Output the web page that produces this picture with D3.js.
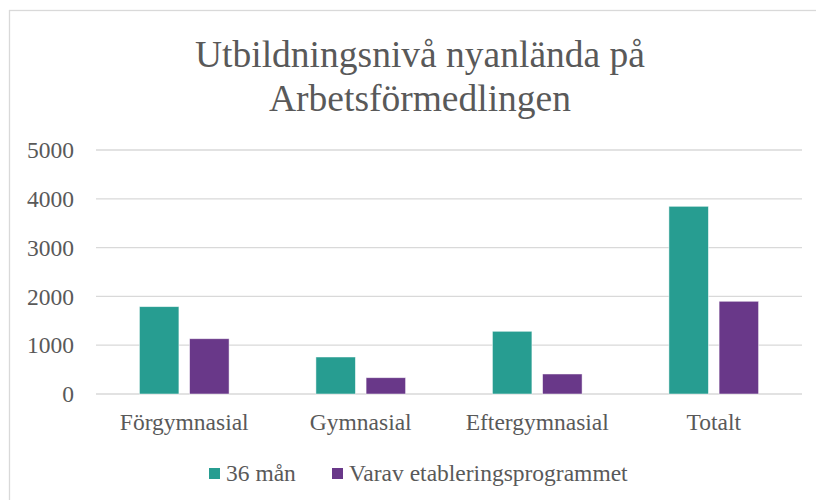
<!DOCTYPE html>
<html>
<head>
<meta charset="utf-8">
<script src="https://cdn.jsdelivr.net/npm/d3@7"></script>
<style>
  body { margin: 0; background: #fff; }
  svg { display: block; font-family: "Liberation Serif", "Times New Roman", serif; }
</style>
</head>
<body>
<div id="chart"></div>
<script>
const categories = ["Förgymnasial", "Gymnasial", "Eftergymnasial", "Totalt"];
const seriesNames = ["36 mån", "Varav etableringsprogrammet"];
const values36 = [1790, 758, 1285, 3846];
const valuesEtab = [1133, 334, 410, 1900];
const yTicks = [0, 1000, 2000, 3000, 4000, 5000];
const titleLines = ["Utbildningsnivå nyanlända på", "Arbetsförmedlingen"];

const colors = ["#279d91", "#693889"];
const textColor = "#595959";

const width = 816, height = 500;
const m = { left: 96, right: 802, top: 150, bottom: 394 };

const svg = d3.select("#chart").append("svg")
    .attr("width", width)
    .attr("height", height);

// chart frame (right and bottom edges fall outside the window)
svg.append("rect")
    .attr("x", 9.5).attr("y", 10.5)
    .attr("width", 822).attr("height", 520)
    .attr("fill", "#fff")
    .attr("stroke", "#d9d9d9")
    .attr("stroke-width", 1.3);

// title
svg.append("text")
    .attr("x", 420)
    .attr("text-anchor", "middle")
    .attr("fill", textColor)
    .attr("font-size", 37.5)
    .selectAll("tspan")
    .data(titleLines)
    .join("tspan")
    .attr("x", 420)
    .attr("y", (d, i) => 67 + i * 43.5)
    .text(d => d);

const x = d3.scaleBand()
    .domain(categories)
    .range([m.left, m.right])
    .paddingInner(0.492)
    .paddingOuter(0.246);

const xSub = d3.scaleBand()
    .domain(d3.range(seriesNames.length))
    .range([0, x.bandwidth()])
    .paddingInner(0.213);

const y = d3.scaleLinear()
    .domain([0, 5000])
    .range([m.bottom, m.top]);

// gridlines
svg.append("g")
    .selectAll("line")
    .data(yTicks)
    .join("line")
    .attr("x1", m.left).attr("x2", m.right)
    .attr("y1", d => y(d)).attr("y2", d => y(d))
    .attr("stroke", "#d9d9d9")
    .attr("stroke-width", 1.3);

// y labels
svg.append("g")
    .selectAll("text")
    .data(yTicks)
    .join("text")
    .attr("x", 74)
    .attr("y", d => y(d))
    .attr("dy", "0.35em")
    .attr("text-anchor", "end")
    .attr("fill", textColor)
    .attr("font-size", 23.5)
    .text(d => d);

// bars
const rows = categories.map((c, i) => ({ cat: c, vals: [values36[i], valuesEtab[i]] }));

const groups = svg.append("g")
    .selectAll("g")
    .data(rows)
    .join("g")
    .attr("transform", d => `translate(${x(d.cat)},0)`);

groups.selectAll("rect")
    .data(d => d.vals.map((v, k) => ({ v, k })))
    .join("rect")
    .attr("x", d => xSub(d.k))
    .attr("width", xSub.bandwidth())
    .attr("y", d => y(d.v))
    .attr("height", d => y(0) - y(d.v))
    .attr("fill", d => colors[d.k])
    .attr("stroke", "#fff")
    .attr("stroke-opacity", 0.6)
    .attr("stroke-width", 0.8);

// x labels
svg.append("g")
    .selectAll("text")
    .data(categories)
    .join("text")
    .attr("x", d => x(d) + x.bandwidth() / 2)
    .attr("y", 430)
    .attr("text-anchor", "middle")
    .attr("fill", textColor)
    .attr("font-size", 23.5)
    .text(d => d);

// legend
const legendX = [209, 332];
const legend = svg.append("g")
    .selectAll("g")
    .data(seriesNames)
    .join("g")
    .attr("transform", (d, i) => `translate(${legendX[i]},468)`);

legend.append("rect")
    .attr("width", 11).attr("height", 11)
    .attr("fill", (d, i) => colors[i]);

legend.append("text")
    .attr("x", 17)
    .attr("y", 13)
    .attr("fill", textColor)
    .attr("font-size", 23.5)
    .text(d => d);
</script>
</body>
</html>
